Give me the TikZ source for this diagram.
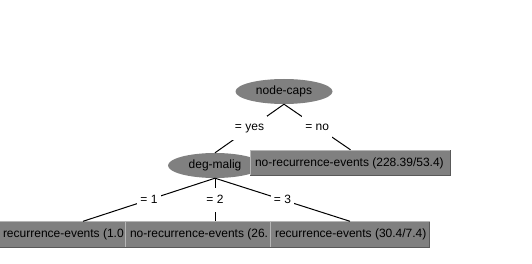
\documentclass[tikz,border=0pt]{standalone}
\usepackage{fontspec}
\setmainfont{Liberation Sans}
\usetikzlibrary{shapes.geometric}

\definecolor{nodegray}{RGB}{128,128,128}
\definecolor{bevlight}{RGB}{182,182,182}
\definecolor{beveldark}{RGB}{89,89,89}

\tikzset{
  splitnode/.style={ellipse, fill=nodegray, inner sep=0pt,
    minimum width=97pt, minimum height=25pt},
  leafbox/.style={rectangle, fill=nodegray, inner xsep=5pt, inner ysep=0pt,
    minimum height=26pt},
  branchlabel/.style={fill=white, inner xsep=3pt, inner ysep=0pt,
    minimum height=24pt},
  treeedge/.style={draw=black, line width=1pt},
}

% raised 3D border around a leaf box
\newcommand\bevelbox[1]{%
  \draw[bevlight, line width=1pt]
    ([shift={(.5pt,.5pt)}]#1.south west) -- ([shift={(.5pt,-.5pt)}]#1.north west)
    -- ([shift={(-.5pt,-.5pt)}]#1.north east);
  \draw[beveldark, line width=1pt]
    ([shift={(.5pt,.5pt)}]#1.south west) -- ([shift={(-.5pt,.5pt)}]#1.south east)
    -- ([shift={(-.5pt,-.5pt)}]#1.north east);}

\begin{document}
\begin{tikzpicture}[x=1pt, y=-1pt, font=\fontsize{12pt}{14pt}\selectfont]
  \useasboundingbox (0,0) rectangle (532,264);
  \fill[white] (0,0) rectangle (532,264);
  \clip (0,0) rectangle (532,264);

  % decision nodes
  \node[splitnode] (nc) at (284,91.5) {node-caps};
  \node[splitnode, minimum width=94pt] (dm) at (215,165.5) {deg-malig};

  % leaves
  \node[leafbox] (lt) at (350.5,163)
    {\makebox[191pt][l]{no-recurrence-events (228.39/53.4)}};
  \bevelbox{lt}
  \node[leafbox] (l1) at (83,234.5)
    {\makebox[160pt][l]{recurrence-events (1.0}};
  \bevelbox{l1}
  \node[leafbox] (l2) at (215,234.5)
    {\makebox[170pt][l]{no-recurrence-events (26.}};
  \bevelbox{l2}
  \node[leafbox] (l3) at (350,234.5)
    {\makebox[150pt][l]{recurrence-events (30.4/7.4)}};
  \bevelbox{l3}

  % branches with their test labels
  \draw[treeedge] (nc.south) -- node[branchlabel] (byes) {= yes} (dm.north);
  \draw[treeedge] (nc.south) -- node[branchlabel] (bno) {= no} (lt.north);
  \draw[treeedge] (dm.south) -- node[branchlabel] (b1) {= 1} (l1.north);
  \draw[treeedge] (dm.south) -- node[branchlabel] (b2) {= 2} (l2.north);
  \draw[treeedge] (dm.south) -- node[branchlabel] (b3) {= 3} (l3.north);
\end{tikzpicture}
\end{document}
